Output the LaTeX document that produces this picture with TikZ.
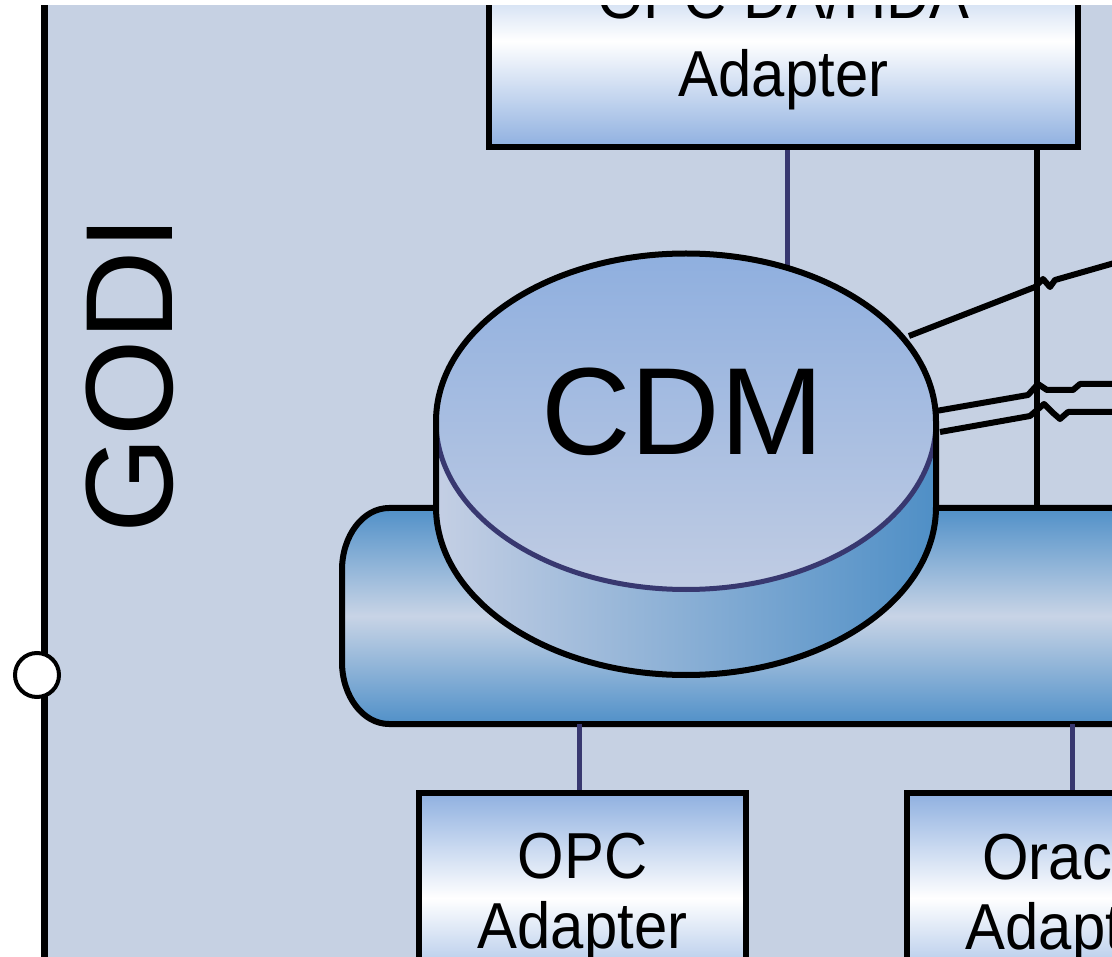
\documentclass[tikz,border=0pt]{standalone}
\usepackage{fontspec}
\setmainfont{Liberation Sans}
\newfontfamily\boxfont[FakeStretch=0.92]{Liberation Sans}
\definecolor{bg}{RGB}{198,209,227}
\definecolor{navy}{RGB}{56,56,112}
\definecolor{busblue}{RGB}{80,144,200}
\definecolor{busmid}{RGB}{200,212,230}
\definecolor{boxblue}{RGB}{143,176,224}
\definecolor{lidtop}{RGB}{143,175,223}
\definecolor{lidbot}{RGB}{192,204,227}
\definecolor{bodyleft}{RGB}{196,207,228}
\definecolor{bodyright}{RGB}{79,143,198}
\begin{document}
\begin{tikzpicture}[x=1pt,y=-1pt,
  adapter/.style={draw=black, line width=6pt, inner sep=0pt,
    top color=boxblue, bottom color=boxblue, middle color=white,
    align=center, minimum width=327pt, minimum height=210pt},
  link/.style={draw=navy, line width=5pt},
  wire/.style={draw=black, line width=6pt, line join=round},
  outline/.style={draw=black, line width=6pt, line join=round},
  bigtext/.style={font=\fontsize{124}{124}\selectfont, inner sep=0pt}]
\useasboundingbox (0,0) rectangle (1112,957);
\clip (0,0) rectangle (1112,957);
% background
\fill[white] (0,0) rectangle (1112,957);
\fill[bg] (44,5) rectangle (1112,957);
% left rail
\coordinate (railtop) at (44,5);
\coordinate (railbot) at (44,957);
\draw[line width=7pt] (railtop) -- (railbot);
% top adapter
\node[adapter, minimum width=589pt, minimum height=212pt,
  font=\boxfont\fontsize{65}{78}\selectfont] (dahda) at (783.5,41) {OPC DA/HDA\\Adapter};
% connectors from top adapter
\coordinate (cdmtop) at (787,266);
\draw[link] (dahda.south -| cdmtop) -- (cdmtop);
\coordinate (busjoin) at (1037,508);
\draw[wire] (dahda.south -| busjoin) -- (busjoin);
% wires to the right
\coordinate (w1a) at (909,336);
\coordinate (w1b) at (1125,260);
\coordinate (w2a) at (936,411);
\coordinate (w2b) at (1125,384);
\coordinate (w3a) at (940,432);
\coordinate (w3b) at (1125,412);
\draw[wire] (w1a) -- (1035,287) -- (1043,279) -- (1050,287) -- (1055,280) -- (w1b);
\draw[wire] (w2a) -- (1028,395) -- (1038,384) -- (1047,390) -- (1073,390) -- (1080,384) -- (w2b);
\draw[wire] (w3a) -- (1030,416) -- (1044,404) -- (1052,412) -- (1060,419) -- (1068,412) -- (w3b);
% bus
\coordinate (busleft) at (342,616);
\path[outline, top color=busblue, bottom color=busblue, middle color=busmid]
  (1130,508) -- (389,508)
  arc[start angle=90, end angle=180, x radius=47pt, y radius=62pt]
  -- (342,662)
  arc[start angle=180, end angle=270, x radius=47pt, y radius=62pt]
  -- (1130,724);
% cylinder body
\fill[left color=bodyleft, right color=bodyright]
  (436,421.5) -- (436,507)
  arc[start angle=180, end angle=360, x radius=250pt, y radius=168pt]
  -- (936,421.5)
  arc[start angle=0, end angle=180, x radius=250pt, y radius=168pt] -- cycle;
% lid
\fill[top color=lidtop, bottom color=lidbot] (686,421.5) ellipse[x radius=250pt, y radius=168pt];
\draw[navy, line width=5pt] (436,421.5)
  arc[start angle=180, end angle=360, x radius=250pt, y radius=168pt];
\draw[outline]
  (436,421.5) -- (436,507)
  arc[start angle=180, end angle=360, x radius=250pt, y radius=168pt]
  -- (936,421.5)
  arc[start angle=0, end angle=180, x radius=250pt, y radius=168pt] -- cycle;
\node[bigtext, anchor=base] (cdm) at (682.5,455) {CDM};
% bottom adapters
\node[adapter, font=\boxfont\fontsize{65}{70}\selectfont] (opc) at (582.5,898) {OPC\\Adapter};
\node[adapter, font=\boxfont\fontsize{65}{70}\selectfont] (oracle) at (1070.5,898) {Oracle\\Adapter};
\coordinate (bb1) at (579,724);
\coordinate (bb2) at (1072,724);
\draw[link] (bb1) -- (bb1 |- opc.north);
\draw[link] (bb2) -- (bb2 |- oracle.north);
% GODI label and port
\node[bigtext, rotate=90, anchor=base] (godi) at (172,375) {GODI};
\node[circle, draw=black, line width=4pt, fill=white, minimum size=44pt, inner sep=0pt] (port) at (37,675) {};
% top white strip
\fill[white] (0,0) rectangle (1112,5);
\end{tikzpicture}
\end{document}
